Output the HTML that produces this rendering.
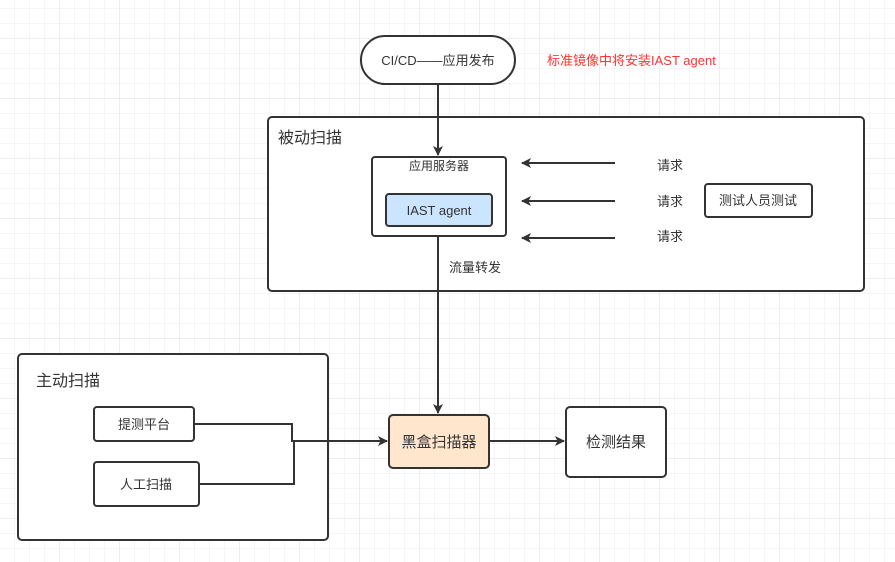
<!DOCTYPE html>
<html><head><meta charset="utf-8"><style>
html,body{margin:0;padding:0;background:#fff}
svg{display:block;font-family:"Liberation Sans","Noto Sans CJK SC",sans-serif}
</style></head><body>
<svg width="895" height="562" xmlns="http://www.w3.org/2000/svg">
<defs>
<pattern id="g" x="14" y="8" width="15" height="15" patternUnits="userSpaceOnUse"><path d="M0 0H15M0 0V15" stroke="#ececec" stroke-width="1" fill="none"/></pattern>
<pattern id="G" x="59" y="38" width="60" height="60" patternUnits="userSpaceOnUse"><path d="M0 0H60M0 0V60" stroke="#dcdcdc" stroke-width="1" fill="none"/></pattern>
<marker id="a" markerWidth="10" markerHeight="10" refX="9" refY="5" orient="auto" markerUnits="userSpaceOnUse"><path d="M0 0L10 5L0 10L2.5 5Z" fill="#333"/></marker>
</defs>
<rect width="895" height="562" fill="url(#g)"/>
<rect width="895" height="562" fill="url(#G)"/>
<g stroke="#333" stroke-width="2" fill="#fff">
<rect x="361" y="36" width="154" height="48" rx="24"/>
<rect x="268" y="117" width="596" height="174" rx="4"/>
<rect x="372" y="157" width="134" height="79" rx="3"/>
<rect x="386" y="194" width="106" height="32" rx="3" fill="#cce5ff"/>
<rect x="705" y="184" width="107" height="33" rx="3"/>
<rect x="18" y="354" width="310" height="186" rx="4"/>
<rect x="94" y="407" width="100" height="34" rx="3"/>
<rect x="94" y="462" width="105" height="44" rx="3"/>
<rect x="389" y="415" width="100" height="53" rx="4" fill="#ffe6cc"/>
<rect x="566" y="407" width="100" height="70" rx="4"/>
</g>
<g stroke="#333" stroke-width="2" fill="none">
<path d="M438 84V155" marker-end="url(#a)"/>
<path d="M615 163H522" marker-end="url(#a)"/>
<path d="M615 201H522" marker-end="url(#a)"/>
<path d="M615 238H522" marker-end="url(#a)"/>
<path d="M438 236V413" marker-end="url(#a)"/>
<path d="M194 424H292V441H387" marker-end="url(#a)"/>
<path d="M199 484H294V441"/>
<path d="M489 441H564" marker-end="url(#a)"/>
</g>
<g fill="#333" font-size="13" text-anchor="middle">
<text x="438" y="65">CI/CD——应用发布</text>
<text x="439" y="170" font-size="12">应用服务器</text>
<text x="439" y="215">IAST agent</text>
<text x="670" y="170">请求</text>
<text x="670" y="206">请求</text>
<text x="670" y="241">请求</text>
<text x="758" y="205">测试人员测试</text>
<text x="475" y="272">流量转发</text>
<text x="144" y="429">提测平台</text>
<text x="146" y="489">人工扫描</text>
<text x="439" y="447" font-size="15">黑盒扫描器</text>
<text x="616" y="447" font-size="15">检测结果</text>
</g>
<text x="547" y="65" font-size="13" fill="#ff3333">标准镜像中将安装IAST agent</text>
<text x="278" y="143" font-size="16" fill="#333">被动扫描</text>
<text x="36" y="386" font-size="16" fill="#333">主动扫描</text>
</svg>
</body></html>
